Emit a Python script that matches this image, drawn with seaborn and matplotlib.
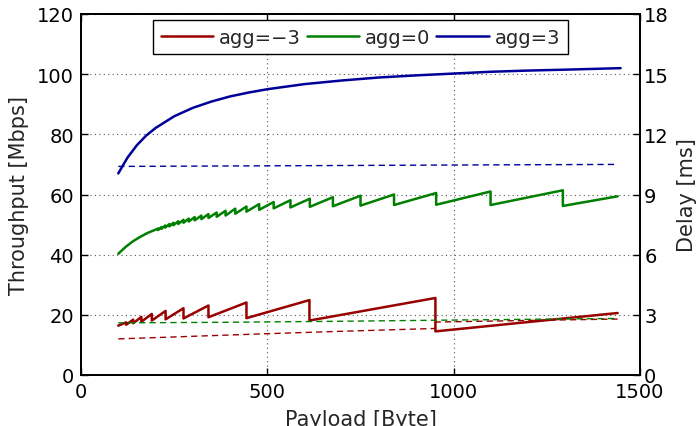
import matplotlib
matplotlib.use("Agg")
import matplotlib.pyplot as plt
import numpy as np
import pandas as pd
import seaborn as sns

sns.set_theme(style="white")
plt.rcParams["font.family"] = ["DejaVu Sans"]

# ---- series labels / colours -------------------------------------------
series = ["agg=\u22123", "agg=0", "agg=3"]
colors = {"agg=\u22123": "#990000", "agg=0": "#007f00", "agg=3": "#000099"}

# ---- throughput, agg=3 (smooth) ----------------------------------------
payload_agg3 = [100, 125, 150, 175, 200, 250, 300, 350, 400, 450, 500,
                600, 700, 800, 900, 1000, 1100, 1200, 1300, 1448]
tput_agg3 = [67.0, 72.3, 76.4, 79.6, 82.1, 86.0, 88.8, 90.9, 92.6, 93.9,
             95.0, 96.7, 97.9, 98.9, 99.6, 100.2, 100.8, 101.2, 101.5, 102.0]

# ---- throughput, agg=0 (sawtooth) ---------------------------------------
head_x_agg0 = [100, 120, 140, 160, 180, 200]
head_y_agg0 = [40.3, 42.6, 44.5, 46.0, 47.3, 48.3]
drops_agg0 = [207, 216, 226, 237, 248, 261, 275, 289, 305, 323, 342, 364, 388,
              414, 444, 478, 517, 562, 614, 676, 750, 840, 953, 1099, 1293]
peak_agg0 = [48.7, 49.2, 49.7, 50.2, 50.6, 51.1, 51.6, 52.0, 52.5, 53.0, 53.5,
             54.0, 54.6, 55.3, 56.0, 56.8, 57.5, 58.1, 58.6, 59.1, 59.6, 60.0,
             60.5, 61.0, 61.4]
trough_agg0 = [48.2, 48.6, 49.0, 49.4, 49.8, 50.2, 50.6, 51.0, 51.4, 51.8, 52.2,
               52.6, 53.0, 53.6, 54.3, 54.9, 55.4, 55.7, 55.9, 56.1, 56.3, 56.5,
               56.6, 56.5, 56.2]
end_agg0 = (1440, 59.4)

# ---- throughput, agg=-3 (sawtooth) --------------------------------------
head_x_aggm3 = [100]
head_y_aggm3 = [16.4]
drops_aggm3 = [121, 140, 162, 190, 227, 275, 342, 444, 613, 951]
peak_aggm3 = [17.5, 18.4, 19.3, 20.3, 21.3, 22.2, 23.1, 24.1, 24.9, 25.6]
trough_aggm3 = [16.7, 17.2, 17.7, 18.1, 18.5, 18.8, 19.2, 18.9, 18.1, 14.5]
end_aggm3 = (1440, 20.6)

# ---- delay [ms] ---------------------------------------------------------
delay_x_aggm3 = [100, 300, 500, 700, 951, 951, 1200, 1440]
delay_aggm3 = [1.80, 1.93, 2.06, 2.18, 2.32, 2.64, 2.72, 2.79]
delay_x_agg0 = [100, 400, 700, 1000, 1440]
delay_agg0 = [2.60, 2.63, 2.68, 2.74, 2.82]
delay_x_agg3 = [100, 500, 1000, 1440]
delay_agg3 = [10.40, 10.43, 10.47, 10.50]


def sawtooth(hx, hy, drops, peaks, troughs, end):
    xs, ys = list(hx), list(hy)
    for d, p, t in zip(drops, peaks, troughs):
        xs += [d, d]
        ys += [p, t]
    xs.append(end[0])
    ys.append(end[1])
    return xs, ys


xm3, ym3 = sawtooth(head_x_aggm3, head_y_aggm3, drops_aggm3, peak_aggm3,
                    trough_aggm3, end_aggm3)
x0, y0 = sawtooth(head_x_agg0, head_y_agg0, drops_agg0, peak_agg0,
                  trough_agg0, end_agg0)

tput = pd.concat([
    pd.DataFrame({"payload": xm3, "value": ym3, "agg": series[0]}),
    pd.DataFrame({"payload": x0, "value": y0, "agg": series[1]}),
    pd.DataFrame({"payload": payload_agg3, "value": tput_agg3, "agg": series[2]}),
], ignore_index=True)

delay = pd.concat([
    pd.DataFrame({"payload": delay_x_aggm3, "value": delay_aggm3, "agg": series[0]}),
    pd.DataFrame({"payload": delay_x_agg0, "value": delay_agg0, "agg": series[1]}),
    pd.DataFrame({"payload": delay_x_agg3, "value": delay_agg3, "agg": series[2]}),
], ignore_index=True)

fig = plt.figure(figsize=(7.0, 4.27), dpi=100)
ax = fig.add_axes([81 / 700, 51 / 427, 559 / 700, 361 / 427])

sns.lineplot(data=tput, x="payload", y="value", hue="agg", hue_order=series,
             palette=colors, estimator=None, sort=False, linewidth=1.8, ax=ax)

ax2 = ax.twinx()
sns.lineplot(data=delay, x="payload", y="value", hue="agg", hue_order=series,
             palette=colors, estimator=None, sort=False, linewidth=1.0,
             legend=False, ax=ax2)
for ln in ax2.lines:
    ln.set_dashes((4.5, 3.0))

ax.set_xlim(0, 1500)
ax.set_ylim(0, 120)
ax.set_xticks([0, 500, 1000, 1500])
ax.set_yticks(np.arange(0, 121, 20))
ax2.set_ylim(0, 18)
ax2.set_yticks(np.arange(0, 19, 3))

ax.grid(True, linestyle=(0, (1, 3)), color="0.35", linewidth=0.8)
ax.set_axisbelow(True)

ax.set_xlabel("Payload [Byte]", fontsize=15, labelpad=6)
ax.set_ylabel("Throughput [Mbps]", fontsize=15, labelpad=6)
ax2.set_ylabel("Delay [ms]", fontsize=15, labelpad=6)

ax.tick_params(axis="both", direction="in", length=5, width=1,
               labelsize=14, colors="black", top=True, right=False,
               left=True, bottom=True, pad=5)
ax2.tick_params(axis="y", direction="in", length=5, width=1,
                labelsize=14, colors="black", pad=3)

for a in (ax, ax2):
    for sp in a.spines.values():
        sp.set_color("black")
        sp.set_linewidth(1.3)

handles, labels = ax.get_legend_handles_labels()
ax.get_legend().remove()
leg = ax2.legend(handles, labels, loc="upper center", ncol=3, fontsize=14,
                 frameon=True, fancybox=False, framealpha=1,
                 edgecolor="black", handlelength=2.7, handletextpad=0.3,
                 columnspacing=0.3, borderaxespad=0.3, borderpad=0.4)
leg.get_frame().set_linewidth(1.0)
for h in leg.get_lines():
    h.set_linewidth(1.8)

fig.savefig("out.png", dpi=100)
